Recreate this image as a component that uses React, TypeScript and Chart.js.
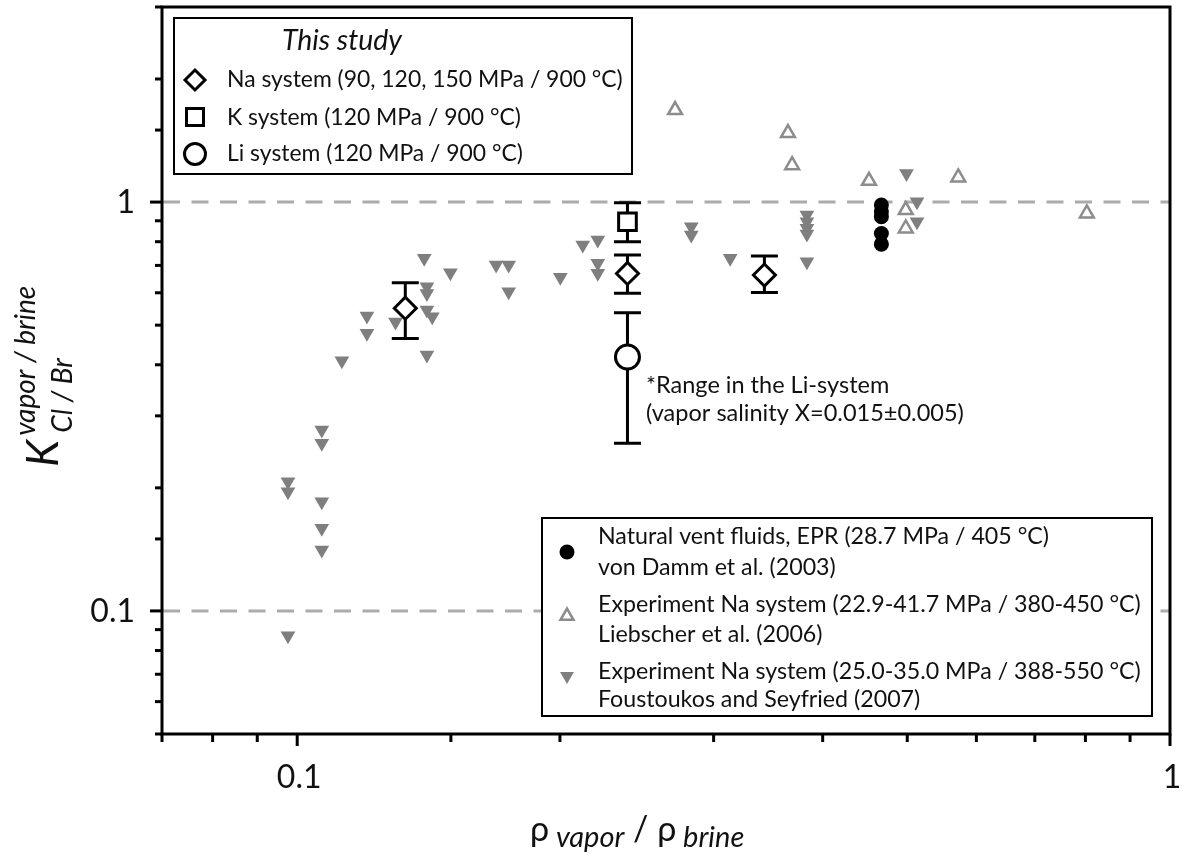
import React, { useEffect, useRef } from 'react';
import { Chart, registerables } from 'chart.js';

Chart.register(...registerables);

const FONT = 'Lato, "Open Sans", "DejaVu Sans", sans-serif';

// ---- This study ----
const naX = [0.133, 0.239, 0.343];
const naY = [0.55, 0.669, 0.663];
const naLow = [0.464, 0.598, 0.601];
const naHigh = [0.635, 0.742, 0.738];

const kX = [0.239];
const kY = [0.895];
const kLow = [0.8];
const kHigh = [0.996];

const liX = [0.239];
const liY = [0.418];
const liLow = [0.257];
const liHigh = [0.536];

// ---- Natural vent fluids, von Damm et al. (2003) ----
const vdX = [0.467, 0.467, 0.467, 0.467, 0.467];
const vdY = [0.983, 0.947, 0.921, 0.838, 0.789];

// ---- Liebscher et al. (2006) ----
const lbX = [0.271, 0.365, 0.369, 0.452, 0.572, 0.498, 0.498, 0.803];
const lbY = [1.679, 1.475, 1.231, 1.127, 1.149, 0.956, 0.862, 0.938];

// ---- Foustoukos and Seyfried (2007) ----
const fsX = [
  0.0976, 0.0976, 0.0976, 0.1067, 0.1067, 0.1067, 0.1067, 0.1067, 0.1125, 0.1202,
  0.1202, 0.1296, 0.1398, 0.1408, 0.1408, 0.1408, 0.1428, 0.1408, 0.1498, 0.169,
  0.1747, 0.1747, 0.2002, 0.2124, 0.221, 0.221, 0.221, 0.2828, 0.2828, 0.3134,
  0.3837, 0.3837, 0.3837, 0.3837, 0.3837, 0.499, 0.513, 0.513,
];
const fsY = [
  0.0869, 0.2071, 0.1957, 0.277, 0.257, 0.185, 0.1593, 0.141, 0.4093, 0.5263,
  0.4775, 0.5087, 0.7284, 0.6208, 0.5979, 0.5446, 0.5243, 0.4225, 0.6716, 0.7015,
  0.7015, 0.6033, 0.6545, 0.785, 0.8073, 0.7083, 0.6694, 0.8701, 0.8304, 0.7284,
  0.9295, 0.8951, 0.8624, 0.8351, 0.7146, 1.1754, 1.0017, 0.8951,
];

// ---- axes ----
const xTickValues = [0.1, 1];
const xTickLabels = ['0.1', '1'];
const yTickValues = [0.1, 1];
const yTickLabels = ['0.1', '1'];
const refLineValues = [1, 0.1];

const studyTitle = 'This study';
const studyLabels = [
  'Na system (90, 120, 150 MPa / 900 °C)',
  'K system (120 MPa / 900 °C)',
  'Li system (120 MPa / 900 °C)',
];
const litLabels = [
  ['Natural vent fluids, EPR (28.7 MPa / 405 °C)', 'von Damm et al. (2003)'],
  ['Experiment Na system (22.9-41.7 MPa / 380-450 °C)', 'Liebscher et al. (2006)'],
  ['Experiment Na system (25.0-35.0 MPa / 388-550 °C)', 'Foustoukos and Seyfried (2007)'],
];
const noteLines = ['*Range in the Li-system', '(vapor salinity X=0.015±0.005)'];

const GRAY_FILL = '#7f7f7f';
const GRAY_OPEN = '#8c8c8c';
const TEXT = '#111';

const pts = (xs: number[], ys: number[]) => xs.map((x, i) => ({ x, y: ys[i] }));

function fitSize(ctx: CanvasRenderingContext2D, text: string, target: number, style: string) {
  ctx.font = `${style} 20px ${FONT}`;
  const w = ctx.measureText(text).width;
  return (20 * target) / w;
}

function marker(
  ctx: CanvasRenderingContext2D,
  kind: string,
  x: number,
  y: number,
  r: number,
  fill: string | null,
  stroke: string | null,
  lw: number
) {
  ctx.save();
  ctx.beginPath();
  if (kind === 'diamond') {
    ctx.moveTo(x, y - r);
    ctx.lineTo(x + r, y);
    ctx.lineTo(x, y + r);
    ctx.lineTo(x - r, y);
    ctx.closePath();
  } else if (kind === 'square') {
    ctx.rect(x - r, y - r, 2 * r, 2 * r);
  } else if (kind === 'circle') {
    ctx.arc(x, y, r, 0, Math.PI * 2);
  } else if (kind === 'triUp') {
    ctx.moveTo(x, y - r);
    ctx.lineTo(x + 0.866 * r, y + 0.5 * r);
    ctx.lineTo(x - 0.866 * r, y + 0.5 * r);
    ctx.closePath();
  } else if (kind === 'triDown') {
    ctx.moveTo(x, y + r);
    ctx.lineTo(x + 0.866 * r, y - 0.5 * r);
    ctx.lineTo(x - 0.866 * r, y - 0.5 * r);
    ctx.closePath();
  }
  if (fill) {
    ctx.fillStyle = fill;
    ctx.fill();
  }
  if (stroke) {
    ctx.strokeStyle = stroke;
    ctx.lineWidth = lw;
    ctx.lineJoin = 'miter';
    ctx.stroke();
  }
  ctx.restore();
}

const isDecade = (v: number) => {
  const l = Math.log10(v);
  return Math.abs(l - Math.round(l)) < 1e-6;
};

const backgroundPlugin = {
  id: 'bgAndRefs',
  beforeDraw(chart: any) {
    const { ctx, width, height } = chart;
    ctx.save();
    ctx.fillStyle = '#fff';
    ctx.fillRect(0, 0, width, height);
    ctx.restore();
  },
  beforeDatasetsDraw(chart: any) {
    const { ctx, chartArea, scales } = chart;
    const ys = scales.y;
    const xs = scales.x;
    ctx.save();
    // dashed reference lines
    ctx.strokeStyle = '#ababab';
    ctx.lineWidth = 3;
    ctx.setLineDash([17, 11.5]);
    refLineValues.forEach((v) => {
      const py = ys.getPixelForValue(v);
      ctx.beginPath();
      ctx.moveTo(chartArea.left + 1, py);
      ctx.lineTo(chartArea.right, py);
      ctx.stroke();
    });
    ctx.setLineDash([]);
    // error bars
    ctx.strokeStyle = '#000';
    ctx.lineWidth = 3;
    const sets = [
      { x: naX, lo: naLow, hi: naHigh },
      { x: kX, lo: kLow, hi: kHigh },
      { x: liX, lo: liLow, hi: liHigh },
    ];
    const cap = 13.5;
    sets.forEach((s) => {
      s.x.forEach((xv, i) => {
        const px = xs.getPixelForValue(xv);
        const p1 = ys.getPixelForValue(s.lo[i]);
        const p2 = ys.getPixelForValue(s.hi[i]);
        ctx.beginPath();
        ctx.moveTo(px, p1);
        ctx.lineTo(px, p2);
        ctx.moveTo(px - cap, p1);
        ctx.lineTo(px + cap, p1);
        ctx.moveTo(px - cap, p2);
        ctx.lineTo(px + cap, p2);
        ctx.stroke();
      });
    });
    ctx.restore();
  },
  afterDraw(chart: any) {
    const { ctx, chartArea, scales } = chart;
    const { left, right, top, bottom } = chartArea;
    ctx.save();
    // frame
    ctx.strokeStyle = '#000';
    ctx.lineWidth = 3;
    ctx.strokeRect(left, top, right - left, bottom - top);
    // ticks
    ctx.lineCap = 'butt';
    scales.x.ticks.forEach((t: any) => {
      const px = scales.x.getPixelForValue(t.value);
      const len = isDecade(t.value) ? 12 : 8;
      ctx.beginPath();
      ctx.moveTo(px, bottom);
      ctx.lineTo(px, bottom + len);
      ctx.stroke();
    });
    scales.y.ticks.forEach((t: any) => {
      const py = scales.y.getPixelForValue(t.value);
      const len = isDecade(t.value) ? 12 : 7;
      ctx.beginPath();
      ctx.moveTo(left, py);
      ctx.lineTo(left - len, py);
      ctx.stroke();
    });
    // tick labels
    ctx.fillStyle = TEXT;
    ctx.font = `32px ${FONT}`;
    ctx.textBaseline = 'middle';
    ctx.textAlign = 'center';
    xTickValues.forEach((v, i) => {
      ctx.fillText(xTickLabels[i], scales.x.getPixelForValue(v) + 2, bottom + 44);
    });
    ctx.textAlign = 'right';
    yTickValues.forEach((v, i) => {
      ctx.fillText(yTickLabels[i], left - 27, scales.y.getPixelForValue(v) + 1);
    });
    ctx.textAlign = 'left';

    // ---- legend: This study ----
    ctx.fillStyle = '#fff';
    ctx.fillRect(174, 18, 458, 156);
    ctx.strokeStyle = '#000';
    ctx.lineWidth = 2;
    ctx.strokeRect(174, 18, 458, 156);
    const s1 = fitSize(ctx, studyLabels[0], 396, 'normal');
    ctx.fillStyle = TEXT;
    ctx.font = `italic ${fitSize(ctx, studyTitle, 120, 'italic')}px ${FONT}`;
    ctx.fillText(studyTitle, 282, 41);
    ctx.font = `${s1}px ${FONT}`;
    const rowsY = [80, 118, 154];
    studyLabels.forEach((l, i) => ctx.fillText(l, 227, rowsY[i]));
    marker(ctx, 'diamond', 195, 80, 10, '#fff', '#000', 3);
    marker(ctx, 'square', 195, 117, 8.5, '#fff', '#000', 3);
    marker(ctx, 'circle', 195, 154, 10.5, '#fff', '#000', 3);

    // ---- legend: literature ----
    ctx.fillStyle = '#fff';
    ctx.fillRect(542, 518, 610, 198);
    ctx.strokeStyle = '#000';
    ctx.lineWidth = 2;
    ctx.strokeRect(542, 518, 610, 198);
    const s2 = fitSize(ctx, litLabels[1][0], 543, 'normal');
    ctx.font = `${s2}px ${FONT}`;
    ctx.fillStyle = TEXT;
    const lineY = [
      [537, 568],
      [605, 635],
      [672, 700],
    ];
    litLabels.forEach((pair, i) => {
      ctx.fillText(pair[0], 598, lineY[i][0]);
      ctx.fillText(pair[1], 598, lineY[i][1]);
    });
    marker(ctx, 'circle', 567, 552, 7.5, '#000', null, 0);
    marker(ctx, 'triUp', 567, 616, 7.5, null, GRAY_OPEN, 2.5);
    marker(ctx, 'triDown', 567, 676, 8, GRAY_FILL, null, 0);

    // ---- annotation ----
    const s3 = fitSize(ctx, noteLines[1], 318, 'normal');
    ctx.font = `${s3}px ${FONT}`;
    ctx.fillText(noteLines[0], 646, 385);
    ctx.fillText(noteLines[1], 646, 413);

    // ---- x title ----
    ctx.textBaseline = 'alphabetic';
    let cx = 530;
    const segX = [
      { t: 'ρ', f: `34px ${FONT}`, dy: 0 },
      { t: ' vapor', f: `italic 29px ${FONT}`, dy: 6 },
      { t: ' / ', f: `34px ${FONT}`, dy: 0 },
      { t: 'ρ', f: `34px ${FONT}`, dy: 0 },
      { t: ' brine', f: `italic 29px ${FONT}`, dy: 6 },
    ];
    segX.forEach((s) => {
      ctx.font = s.f;
      ctx.fillText(s.t, cx, 841 + s.dy);
      cx += ctx.measureText(s.t).width;
    });

    // ---- y title ----
    ctx.translate(58, 467);
    ctx.rotate(-Math.PI / 2);
    ctx.font = `italic 44px ${FONT}`;
    ctx.fillText('K', 0, 0);
    const kw = ctx.measureText('K').width + 4;
    ctx.font = `italic 28px ${FONT}`;
    ctx.fillText('vapor / brine', kw, -23);
    ctx.fillText('Cl / Br', kw + 3, 14);
    ctx.restore();
  },
};

export default function App() {
  const ref = useRef<HTMLCanvasElement | null>(null);

  useEffect(() => {
    document.body.style.margin = '0';
    const canvas = ref.current;
    if (!canvas) return;
    const chart = new Chart(canvas, {
      type: 'scatter',
      data: {
        datasets: [
          {
            label: 'Na system',
            data: pts(naX, naY),
            pointStyle: 'rectRot',
            pointRadius: 11,
            pointBorderWidth: 3,
            borderColor: '#000',
            backgroundColor: '#fff',
          },
          {
            label: 'K system',
            data: pts(kX, kY),
            pointStyle: 'rect',
            pointRadius: 12.5,
            pointBorderWidth: 3,
            borderColor: '#000',
            backgroundColor: '#fff',
          },
          {
            label: 'Li system',
            data: pts(liX, liY),
            pointStyle: 'circle',
            pointRadius: 12,
            pointBorderWidth: 3,
            borderColor: '#000',
            backgroundColor: '#fff',
          },
          {
            label: 'von Damm',
            data: pts(vdX, vdY),
            pointStyle: 'circle',
            pointRadius: 7.5,
            pointBorderWidth: 0,
            borderColor: '#000',
            backgroundColor: '#000',
          },
          {
            label: 'Liebscher',
            data: pts(lbX, lbY),
            pointStyle: 'triangle',
            pointRadius: 8,
            pointBorderWidth: 2.5,
            borderColor: GRAY_OPEN,
            backgroundColor: 'rgba(255,255,255,0)',
          },
          {
            label: 'Foustoukos',
            data: pts(fsX, fsY),
            pointStyle: 'triangle',
            pointRotation: 180,
            pointRadius: 8.5,
            pointBorderWidth: 0,
            borderColor: GRAY_FILL,
            backgroundColor: GRAY_FILL,
          },
        ] as any,
      },
      options: {
        responsive: false,
        animation: false,
        events: [],
        layout: { autoPadding: false, padding: { left: 0, right: 19, top: 7, bottom: 0 } },
        plugins: { legend: { display: false }, tooltip: { enabled: false } },
        scales: {
          x: {
            type: 'logarithmic',
            min: 0.07,
            max: 1,
            grid: { display: false, drawTicks: false, tickLength: 0 },
            border: { display: false },
            ticks: { display: false, autoSkip: false },
            afterFit: (s: any) => {
              s.height = 123;
            },
          },
          y: {
            type: 'logarithmic',
            min: 0.05,
            max: 3,
            grid: { display: false, drawTicks: false, tickLength: 0 },
            border: { display: false },
            ticks: { display: false, autoSkip: false },
            afterFit: (s: any) => {
              s.width = 162;
            },
          },
        },
      } as any,
      plugins: [backgroundPlugin],
    });
    return () => chart.destroy();
  }, []);

  return (
    <div style={{ width: 1189, height: 857 }}>
      <canvas ref={ref} width={1189} height={857} style={{ display: 'block' }} />
    </div>
  );
}
